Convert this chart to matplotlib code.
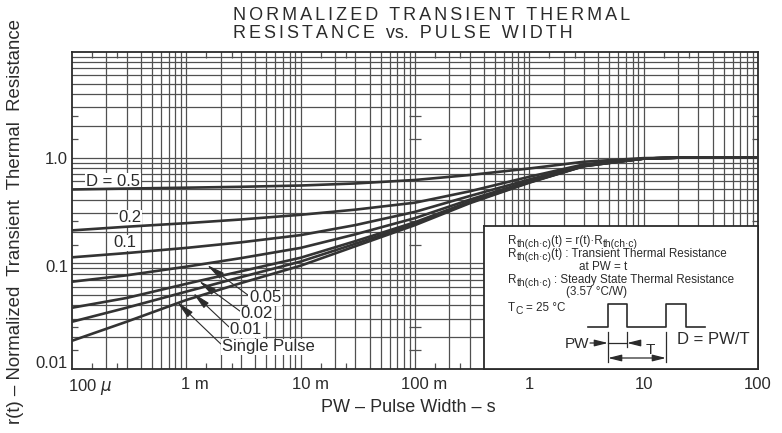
import matplotlib
matplotlib.use('Agg')
import matplotlib.pyplot as plt
from matplotlib.ticker import NullFormatter, NullLocator

# ---------------- data ----------------
pulse_width_s = [1e-4, 3e-4, 1e-3, 3e-3, 1e-2, 3e-2, 0.1, 0.3, 1, 3, 10, 20, 100]
r_d050 = [0.50, 0.51, 0.52, 0.53, 0.545, 0.57, 0.615, 0.685, 0.79, 0.915, 0.99, 1.0, 1.0]
r_d020 = [0.205, 0.222, 0.240, 0.260, 0.288, 0.322, 0.375, 0.480, 0.660, 0.864, 0.98, 1.0, 1.0]
r_d010 = [0.114, 0.125, 0.140, 0.158, 0.185, 0.230, 0.307, 0.433, 0.622, 0.847, 0.98, 1.0, 1.0]
r_d005 = [0.067, 0.077, 0.093, 0.112, 0.140, 0.188, 0.268, 0.400, 0.600, 0.840, 0.98, 1.0, 1.0]
r_d002 = [0.038, 0.047, 0.064, 0.084, 0.113, 0.162, 0.245, 0.383, 0.588, 0.834, 0.98, 1.0, 1.0]
r_d001 = [0.028, 0.038, 0.054, 0.074, 0.104, 0.153, 0.237, 0.376, 0.584, 0.832, 0.98, 1.0, 1.0]
r_single = [0.0185, 0.028, 0.045, 0.065, 0.095, 0.145, 0.230, 0.370, 0.580, 0.830, 0.98, 1.0, 1.0]
curves = [r_d050, r_d020, r_d010, r_d005, r_d002, r_d001, r_single]
curve_labels = ['D = 0.5', '0.2', '0.1', '0.05', '0.02', '0.01', 'Single Pulse']

x_tick_values = [1e-4, 1e-3, 1e-2, 1e-1, 1, 10, 100]
x_tick_labels = ['100 $\\mu$', '1 m', '10 m', '100 m', '1', '10', '100']
y_tick_values = [0.01, 0.1, 1.0]
y_tick_labels = ['0.01', '0.1', '1.0']

# ---------------- layout helpers ----------------
W, H = 782, 433
AX_L, AX_R, AX_T, AX_B = 72, 758, 52, 369
FONT = ['Liberation Sans', 'DejaVu Sans']
plt.rcParams['font.family'] = FONT
INK = '#2b2b2b'
GRID = '#505050'

def axf(px, py):
    return ((px - AX_L) / (AX_R - AX_L), (AX_B - py) / (AX_B - AX_T))

fig = plt.figure(figsize=(W / 100, H / 100), dpi=100)
ax = fig.add_axes([AX_L / W, 1 - AX_B / H, (AX_R - AX_L) / W, (AX_B - AX_T) / H])
ax.set_xscale('log')
ax.set_yscale('log')
ax.set_xlim(1e-4, 100)
ax.set_ylim(0.01, 10)

# graph-paper grid: 1..9 in every decade
for e in range(-4, 2):
    for m in range(1, 10):
        v = m * 10.0 ** e
        if 1e-4 < v < 100:
            ax.axvline(v, color=GRID, lw=0.9, zorder=1)
for e in range(-2, 1):
    for m in range(1, 10):
        v = m * 10.0 ** e
        if 0.01 < v < 10:
            ax.axhline(v, color=GRID, lw=0.9, zorder=1)

# small inward ticks at 1.5 and 2.5 of each decade
xminor = [k * 10.0 ** e for e in range(-4, 2) for k in (1.5, 2.5)]
yminor = [k * 10.0 ** e for e in range(-2, 1) for k in (1.5, 2.5)]
ax.xaxis.set_major_locator(NullLocator())
ax.yaxis.set_major_locator(NullLocator())
ax.set_xticks(xminor, minor=True)
ax.set_yticks(yminor, minor=True)
ax.xaxis.set_minor_formatter(NullFormatter())
ax.yaxis.set_minor_formatter(NullFormatter())
ax.tick_params(which='minor', direction='in', length=4, width=0.9, color=GRID,
               top=True, right=True)
# cross ticks on the 100 ms line
ax.plot([0.1] * len(yminor), yminor, ls='none', marker='_', ms=8, mew=0.9,
        color=GRID, zorder=1.5)

for sp in ax.spines.values():
    sp.set_linewidth(1.3)
    sp.set_color(INK)

# curves
for ys in curves:
    ax.plot(pulse_width_s, ys, color='#333333', lw=1.9, zorder=3,
            solid_joinstyle='round')

# tick labels
x_off_px = [-4, -5, -9, -14, -5, -9, -14]
for v, lab, dx in zip(x_tick_values, x_tick_labels, x_off_px):
    ax.annotate(lab, xy=(v, 0), xycoords=('data', 'axes fraction'),
                xytext=(dx, -8), textcoords='offset pixels', ha='left', va='top',
                fontsize=12, color=INK, annotation_clip=False)
y_off_px = [5, -4, -2]
for v, lab, dy in zip(y_tick_values, y_tick_labels, y_off_px):
    ax.annotate(lab, xy=(0, v), xycoords=('axes fraction', 'data'),
                xytext=(-4, dy), textcoords='offset pixels', ha='right', va='center',
                fontsize=12, color=INK, annotation_clip=False)

# curve labels
bbox = dict(facecolor='white', edgecolor='none', pad=0.6)
label_pos = [(113, 181), (130, 218), (125, 243), (265, 298), (257, 314), (246, 330), (268, 347)]
arrow_tip = [None, None, None, (207, 265), (199, 281), (193, 293), (177, 302)]
for lab, (px, py), tip in zip(curve_labels, label_pos, arrow_tip):
    if tip is None:
        ax.text(*axf(px, py), lab, transform=ax.transAxes, ha='center', va='center',
                fontsize=12, color=INK, bbox=bbox, zorder=2.5)
    else:
        ax.annotate(lab, xy=axf(*tip), xycoords='axes fraction',
                    xytext=axf(px, py), textcoords='axes fraction',
                    ha='center', va='center', fontsize=12, color=INK,
                    bbox=bbox, zorder=2.5,
                    arrowprops=dict(arrowstyle='-|>,head_length=0.9,head_width=0.18',
                                    lw=0.8, color=INK, shrinkA=0, shrinkB=0,
                                    relpos=(0.0, 0.65)))

# info box
bx = ax.inset_axes([*axf(484, AX_B), (AX_R - 484) / (AX_R - AX_L), (AX_B - 226) / (AX_B - AX_T)])
bx.set_zorder(5)
bx.set_xlim(484, 758)
bx.set_ylim(369, 226)
bx.set_xticks([])
bx.set_yticks([])
bx.set_facecolor('white')
for sp in bx.spines.values():
    sp.set_linewidth(1.3)
    sp.set_color(INK)

MAIN_FS, SUB_FS, SUB_DY = 8.4, 7.4, 3

def rich_line(x, y, parts):
    """parts: list of (text, is_subscript, gap_px)"""
    prev = None
    for s, is_sub, gap in parts:
        fs = SUB_FS if is_sub else MAIN_FS
        dy = -SUB_DY if is_sub else 0
        if prev is None:
            prev = bx.text(x, y, s, ha='left', va='baseline', fontsize=fs, color=INK)
        else:
            prev = bx.annotate(s, xy=(1, y), xycoords=(prev, 'data'),
                               xytext=(gap, dy), textcoords='offset pixels',
                               ha='left', va='baseline', fontsize=fs, color=INK)

SUBTH = 'th(ch·c)'
rich_line(508, 244, [('R', False, 0), (SUBTH, True, 0), ('(t) = r(t)·R', False, 0),
                     (SUBTH, True, 0)])
rich_line(508, 257, [('R', False, 0), (SUBTH, True, 0),
                     ('(t) : Transient Thermal Resistance', False, 0)])
rich_line(579, 270, [('at PW = t', False, 0)])
rich_line(508, 283, [('R', False, 0), (SUBTH, True, 0),
                     (': Steady State Thermal Resistance', False, 3)])
rich_line(566, 295, [('(3.57 °C/W)', False, 0)])
rich_line(508, 311, [('T', False, 0), ('C', True, 0), ('= 25 °C', False, 3)])

# pulse diagram
bx.plot([588, 608, 608, 627, 627, 666, 666, 686, 686, 705],
        [327, 327, 304, 304, 327, 327, 304, 304, 327, 327], color=INK, lw=1.2)
for xx, y0, y1 in [(608, 332, 362), (627, 332, 347), (666, 332, 362)]:
    bx.plot([xx, xx], [y0, y1], color=INK, lw=0.9)
bx.plot([608, 627], [343, 343], color=INK, lw=0.9)
ah = dict(arrowstyle='-|>,head_length=0.8,head_width=0.2', lw=0.9, color=INK,
          shrinkA=0, shrinkB=0)
bx.annotate('', xy=(608, 343), xytext=(590, 343), arrowprops=ah)
bx.annotate('', xy=(627, 343), xytext=(640, 343), arrowprops=ah)
bx.annotate('', xy=(666, 358), xytext=(608, 358),
            arrowprops=dict(arrowstyle='<|-|>,head_length=0.8,head_width=0.2', lw=0.9,
                            color=INK, shrinkA=0, shrinkB=0))
bx.text(577, 344, 'PW', ha='center', va='center', fontsize=11, color=INK)
bx.text(650, 350, 'T', ha='center', va='center', fontsize=11, color=INK)
bx.text(713, 340, 'D = PW/T', ha='center', va='center', fontsize=12, color=INK)

# axis titles
fig.text(16 / W, 1 - 221 / H, 'r(t) – Normalized  Transient  Thermal  Resistance',
         rotation=90, ha='center', va='center', fontsize=13.4, color=INK)
fig.text(408 / W, 1 - 407 / H, 'PW – Pulse Width – s', ha='center', va='center',
         fontsize=13, color=INK)

SP = '\u2006'

def tracked(s, words_only=False):
    if not words_only:
        return SP.join(s)
    return (SP + ' ' + SP).join(SP.join(w) if w.isupper() else w for w in s.split(' '))

fig.text(233 / W, 1 - 15.5 / H, tracked('NORMALIZED TRANSIENT THERMAL'), ha='left',
         va='center', fontsize=13, color=INK)
fig.text(233 / W, 1 - 33 / H, tracked('RESISTANCE vs. PULSE WIDTH', words_only=True),
         ha='left', va='center', fontsize=13, color=INK)

fig.savefig('out.png', dpi=100, facecolor='white')
